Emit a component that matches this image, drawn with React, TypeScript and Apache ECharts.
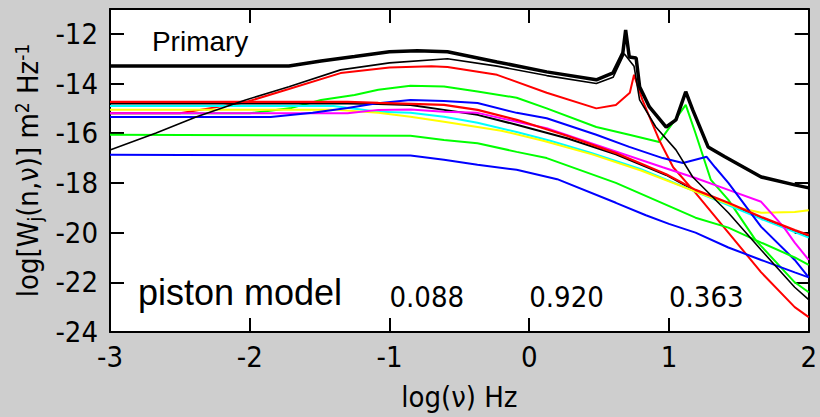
import React, { useEffect, useRef } from "react";
import * as echarts from "echarts";

// ---- data (log10 frequency vs log spectral density) ----
const primaryX = [-3, -1.72, -1.49, -1.25, -1.0, -0.8, -0.585, -0.23, 0.125, 0.48, 0.6, 0.67, 0.69, 0.716, 0.765, 0.79, 0.86, 0.98, 1.05, 1.12, 1.17, 1.28, 1.4, 1.66, 1.9, 2];
const primaryY = [-13.29, -13.29, -13.09, -12.91, -12.72, -12.68, -12.72, -13.13, -13.53, -13.85, -13.57, -12.76, -11.84, -12.93, -12.97, -14.13, -14.94, -15.75, -15.46, -14.33, -15.06, -16.55, -16.95, -17.76, -18.08, -18.2];

const blackBX = [-3, -2.67, -2.38, -2.03, -1.72, -1.35, -1.0, -0.585, -0.23, 0.125, 0.48, 0.6, 0.68, 0.75, 0.79, 0.906, 1.05, 1.17, 1.425, 1.66, 1.9, 2];
const blackBY = [-16.67, -15.99, -15.34, -14.66, -14.13, -13.45, -13.17, -13.0, -13.3, -13.68, -14.0, -13.75, -12.8, -13.3, -14.66, -15.75, -16.67, -17.76, -19.2, -20.7, -22.2, -22.7];

const redAX = [-3, -2.5, -2.27, -2.03, -1.72, -1.35, -1.0, -0.7, -0.585, -0.23, 0.125, 0.48, 0.62, 0.72, 0.75, 0.81, 0.88, 0.93, 1.03, 1.19, 1.425, 1.66, 1.9, 2];
const redAY = [-15.2, -15.2, -14.98, -14.75, -14.22, -13.58, -13.35, -13.3, -13.33, -13.65, -14.37, -15.0, -14.86, -14.37, -13.65, -14.66, -15.6, -16.27, -17.37, -18.4, -20.0, -21.6, -23.0, -23.4];

const redCX = [-3, -1.3, -1.08, -0.61, -0.37, -0.09, 0.27, 0.62, 0.98, 1.19, 1.425, 1.66, 1.9, 2];
const redCY = [-14.74, -14.74, -14.78, -14.86, -15.06, -15.46, -16.1, -16.8, -17.65, -18.28, -18.8, -19.37, -19.9, -20.1];

const blackDX = [-3, -1.3, -1.08, -0.85, -0.61, -0.37, -0.09, 0.27, 0.62, 0.98, 1.19, 1.425, 1.66, 1.9, 2];
const blackDY = [-14.8, -14.8, -14.82, -14.86, -15.06, -15.26, -15.66, -16.2, -16.85, -17.68, -18.32, -18.84, -19.4, -19.94, -20.14];

const cyanX = [-3, -1.4, -1.08, -0.85, -0.61, -0.37, -0.09, 0.15, 0.45, 0.8, 1.19, 1.66, 2];
const cyanY = [-14.9, -14.9, -15.14, -15.18, -15.34, -15.58, -15.95, -16.3, -16.8, -17.45, -18.35, -19.45, -20.2];

const yellowX = [-3, -1.4, -1.08, -0.85, -0.61, -0.37, -0.2, 0.1, 0.45, 0.8, 1.19, 1.5, 1.66, 1.9, 2];
const yellowY = [-15.05, -15.05, -15.18, -15.34, -15.54, -15.75, -15.9, -16.3, -16.85, -17.5, -18.35, -19.0, -19.2, -19.17, -19.1];

const magentaX = [-3, -1.3, -1.08, -0.85, -0.61, -0.37, -0.09, 0.125, 0.48, 0.955, 1.19, 1.425, 1.66, 1.82, 1.9, 2];
const magentaY = [-15.2, -15.2, -15.06, -15.04, -15.14, -15.18, -15.54, -15.8, -16.47, -17.37, -17.8, -18.28, -18.76, -19.77, -20.4, -21.1];

const blueAX = [-3, -1.85, -1.55, -1.3, -1.1, -0.85, -0.61, -0.37, -0.09, 0.125, 0.48, 0.716, 0.955, 1.1, 1.27, 1.33, 1.425, 1.66, 1.9, 2];
const blueAY = [-15.35, -15.35, -15.18, -14.98, -14.8, -14.66, -14.7, -14.78, -15.18, -15.4, -16.06, -16.55, -17.0, -17.2, -16.95, -17.37, -18.0, -19.77, -21.1, -21.8];

const greenAX = [-3, -2.0, -1.7, -1.49, -1.25, -1.08, -0.85, -0.61, -0.37, -0.09, 0.125, 0.48, 0.716, 0.93, 1.12, 1.19, 1.26, 1.3, 1.425, 1.62, 1.9, 2];
const greenAY = [-15.2, -15.2, -14.98, -14.66, -14.46, -14.25, -14.09, -14.12, -14.32, -14.57, -15.0, -15.75, -16.06, -16.35, -14.86, -16.0, -17.2, -17.88, -18.68, -20.3, -22.0, -22.4];

const greenBX = [-3, -0.85, -0.61, -0.37, -0.09, 0.125, 0.62, 1.19, 1.425, 1.66, 1.9, 2];
const greenBY = [-16.06, -16.1, -16.27, -16.4, -16.75, -17.0, -18.0, -19.4, -19.8, -20.4, -21.0, -21.3];

const blueBX = [-3, -0.85, -0.61, -0.37, -0.09, 0.2, 0.62, 0.835, 1.0, 1.19, 1.425, 1.66, 1.9, 2];
const blueBY = [-16.87, -16.9, -17.07, -17.27, -17.47, -17.85, -18.8, -19.3, -19.65, -20.0, -20.6, -21.1, -21.6, -21.8];

const annotations = [
  { text: "Primary", x: -2.7, y: -12.32, size: 28, narrow: false },
  { text: "piston model", x: -2.8, y: -22.43, size: 36, narrow: false },
  { text: "0.088", x: -1.0, y: -22.6, size: 29, narrow: true },
  { text: "0.920", x: 0.0, y: -22.6, size: 29, narrow: true },
  { text: "0.363", x: 1.0, y: -22.6, size: 29, narrow: true },
];

const NARROW = "'Liberation Sans Narrow', 'Arial Narrow', 'DejaVu Sans Condensed', sans-serif";
const REGULAR = "'Liberation Sans', Arial, sans-serif";

export default function App() {
  const ref = useRef<HTMLDivElement>(null);
  useEffect(() => {
    const chart = echarts.init(ref.current as HTMLDivElement, null, { renderer: "svg" });
    const zip = (xs: number[], ys: number[]) => xs.map((x, i) => [x, ys[i]]);
    const lines = [
      { c: "#00ff00", w: 2, x: greenAX, y: greenAY },
      { c: "#ff0000", w: 2, x: redAX, y: redAY },
      { c: "#000000", w: 2, x: blackDX, y: blackDY },
      { c: "#00ffff", w: 2, x: cyanX, y: cyanY },
      { c: "#ffff00", w: 2, x: yellowX, y: yellowY },
      { c: "#ff00ff", w: 2, x: magentaX, y: magentaY },
      { c: "#0000ff", w: 2, x: blueAX, y: blueAY },
      { c: "#ff0000", w: 2.2, x: redCX, y: redCY },
      { c: "#00ff00", w: 2, x: greenBX, y: greenBY },
      { c: "#0000ff", w: 2, x: blueBX, y: blueBY },
      { c: "#000000", w: 1.6, x: blackBX, y: blackBY },
      { c: "#000000", w: 3.5, x: primaryX, y: primaryY },
    ];
    const axisCommon = {
      axisLine: { show: true, onZero: false, lineStyle: { color: "#000", width: 2 } },
      axisTick: { show: true, inside: true, length: 14, lineStyle: { color: "#000", width: 2 } },
      splitLine: { show: false },
    };
    const labelStyle = { color: "#000", fontSize: 29, fontFamily: NARROW };
    chart.setOption({
      animation: false,
      backgroundColor: "#cecece",
      grid: { left: 110, right: 6, top: 9, bottom: 85, show: true, backgroundColor: "#ffffff", borderWidth: 0 },
      xAxis: [
        {
          type: "value", min: -3, max: 2, interval: 1, position: "bottom",
          ...axisCommon,
          axisLabel: { ...labelStyle, margin: 10 },
          name: "log(ν) Hz", nameLocation: "middle", nameGap: 50,
          nameTextStyle: { color: "#000", fontSize: 29, fontFamily: NARROW },
        },
        {
          type: "value", min: -3, max: 2, interval: 1, position: "top",
          ...axisCommon, axisLabel: { show: false },
        },
      ],
      yAxis: [
        {
          type: "value", min: -24, max: -11, interval: 2, position: "left",
          ...axisCommon,
          axisLabel: { ...labelStyle, margin: 12, formatter: (v: number) => (v % 2 === 0 ? String(v) : "") },
          name: "{a|log[W}{s|j}{a|(n,ν)] m}{p|2}{a| Hz}{p|-1}",
          nameLocation: "middle", nameRotate: 90, nameGap: 66,
          nameTextStyle: {
            color: "#000",
            rich: {
              a: { fontSize: 29, fontFamily: NARROW, color: "#000", lineHeight: 32 },
              s: { fontSize: 19, fontFamily: NARROW, color: "#000", verticalAlign: "bottom", lineHeight: 32 },
              p: { fontSize: 19, fontFamily: NARROW, color: "#000", verticalAlign: "top", lineHeight: 32 },
            },
          },
        },
        {
          type: "value", min: -24, max: -11, interval: 2, position: "right",
          ...axisCommon, axisLabel: { show: false },
        },
      ],
      series: lines.map((l) => ({
        type: "line",
        xAxisIndex: 0,
        yAxisIndex: 0,
        data: zip(l.x, l.y),
        showSymbol: false,
        symbol: "none",
        lineStyle: { color: l.c, width: l.w },
        itemStyle: { color: l.c },
        silent: true,
      })),
    });
    const graphic = annotations.map((a) => {
      const p = chart.convertToPixel({ seriesIndex: 0 }, [a.x, a.y]) as number[];
      return {
        type: "text",
        x: p[0],
        y: p[1],
        z: 100,
        style: {
          text: a.text,
          fontSize: a.size,
          fontFamily: a.narrow ? NARROW : REGULAR,
          fill: "#000",
          align: "left",
          verticalAlign: "middle",
        },
      };
    });
    chart.setOption({ graphic });
    return () => chart.dispose();
  }, []);
  return <div ref={ref} style={{ position: "fixed", left: 0, top: 0, width: 820, height: 417 }} />;
}
